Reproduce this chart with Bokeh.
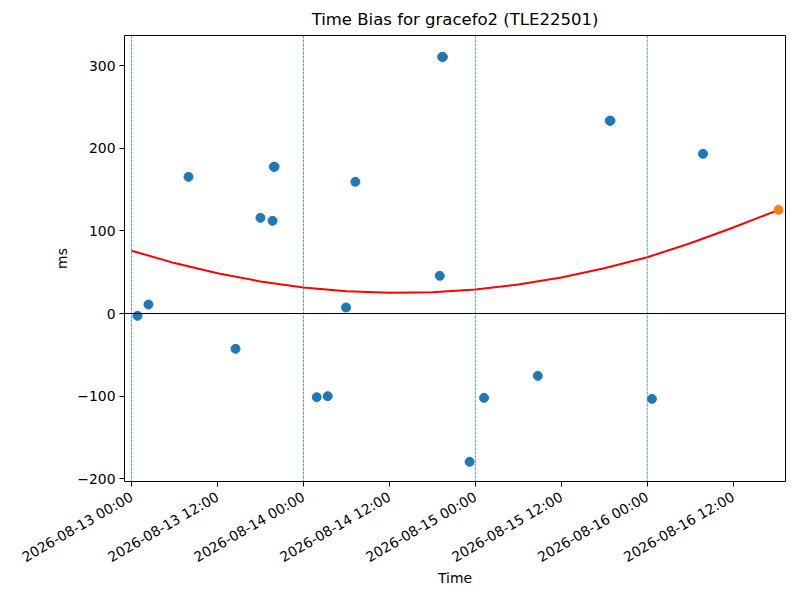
import math
import pandas as pd
from bokeh.plotting import figure
from bokeh.models import Range1d, Span, FixedTicker, DatetimeTickFormatter
from bokeh.embed import file_html
from bokeh.resources import INLINE

# ---- data ----
obs_times = [
    "2026-08-13 00:50", "2026-08-13 02:22", "2026-08-13 07:57", "2026-08-13 14:31",
    "2026-08-13 18:00", "2026-08-13 19:41", "2026-08-13 19:52", "2026-08-13 19:58",
    "2026-08-14 01:51", "2026-08-14 03:23", "2026-08-14 05:57", "2026-08-14 07:15",
    "2026-08-14 19:02", "2026-08-14 19:22", "2026-08-14 19:28", "2026-08-14 23:12",
    "2026-08-15 01:13", "2026-08-15 08:43", "2026-08-15 18:46", "2026-08-15 18:52",
    "2026-08-16 00:39", "2026-08-16 07:47",
]
obs_bias_ms = [
    -2.8, 10.9, 165.3, -42.7,
    115.7, 112.1, 177.4, 177.6,
    -101.2, -100.0, 7.3, 159.3,
    45.6, 310.5, 310.3, -179.4,
    -102.0, -75.4, 233.1, 233.3,
    -103.2, 193.2,
]
latest_time = ["2026-08-16 18:20"]
latest_bias_ms = [125.4]

fit_times = [
    "2026-08-13 00:00", "2026-08-13 06:00", "2026-08-13 12:00", "2026-08-13 18:00",
    "2026-08-14 00:00", "2026-08-14 06:00", "2026-08-14 12:00", "2026-08-14 18:00",
    "2026-08-15 00:00", "2026-08-15 06:00", "2026-08-15 12:00", "2026-08-15 18:00",
    "2026-08-16 00:00", "2026-08-16 06:00", "2026-08-16 12:00", "2026-08-16 18:20",
]
fit_bias_ms = [
    76.0, 61.0, 48.6, 38.8,
    31.6, 27.0, 25.1, 25.8,
    29.1, 35.0, 43.6, 54.7,
    68.0, 85.0, 104.0, 125.4,
]

day_lines = ["2026-08-13 00:00", "2026-08-14 00:00", "2026-08-15 00:00", "2026-08-16 00:00"]
x_ticks = [
    "2026-08-13 00:00", "2026-08-13 12:00", "2026-08-14 00:00", "2026-08-14 12:00",
    "2026-08-15 00:00", "2026-08-15 12:00", "2026-08-16 00:00", "2026-08-16 12:00",
]
y_ticks = [-200, -100, 0, 100, 200, 300]
y_tick_labels = ["\u2212200", "\u2212100", "0", "100", "200", "300"]

title_text = "Time Bias for gracefo2 (TLE22501)"
x_label = "Time"
y_label = "ms"


def ms(s):
    return pd.Timestamp(s).value / 1e6


FONT = "DejaVu Sans"

p = figure(
    frame_width=661, frame_height=446,
    min_border_left=124, min_border_right=7, min_border_top=35, min_border_bottom=100,
    x_axis_type="datetime",
    x_range=Range1d(ms("2026-08-12 23:01"), ms("2026-08-16 19:18")),
    y_range=Range1d(-203.2, 336.3),
    output_backend="svg", toolbar_location=None, title=title_text,
)
p.background_fill_color = "white"
p.border_fill_color = "white"
p.outline_line_color = "black"
p.outline_line_width = 1
p.xgrid.visible = False
p.ygrid.visible = False

p.title.align = "center"
p.title.text_font = FONT
p.title.text_font_size = "16.5px"
p.title.text_font_style = "normal"
p.title.text_color = "black"
p.title.offset = 0
p.title.standoff = 14

for d in day_lines:
    p.add_layout(Span(location=ms(d), dimension="height", line_color="#3f8ccc",
                      line_width=0.9, line_dash="3 1"))
p.add_layout(Span(location=0, dimension="width", line_color="black", line_width=1))

p.line(pd.to_datetime(fit_times), fit_bias_ms, line_color="red", line_width=2)
p.scatter(pd.to_datetime(obs_times), obs_bias_ms, size=9, fill_color="#1f77b4",
          line_color="#1f77b4")
p.scatter(pd.to_datetime(latest_time), latest_bias_ms, size=9, fill_color="#ff7f0e",
          line_color="#ff7f0e")

xa = p.xaxis[0]
xa.ticker = FixedTicker(ticks=[ms(t) for t in x_ticks])
fmt = "%Y-%m-%d %H:%M"
xa.formatter = DatetimeTickFormatter(
    milliseconds=fmt, seconds=fmt, minsec=fmt, minutes=fmt, hourmin=fmt,
    hours=fmt, days=fmt, months=fmt, years=fmt,
)
xa.major_label_orientation = math.pi / 6
xa.axis_label = x_label
xa.axis_label_standoff = -5

ya = p.yaxis[0]
ya.ticker = FixedTicker(ticks=y_ticks)
ya.major_label_overrides = {v: s for v, s in zip(y_ticks, y_tick_labels)}
ya.axis_label = y_label
ya.axis_label_standoff = 4

for ax in (xa, ya):
    ax.axis_line_color = None
    ax.major_tick_line_color = "black"
    ax.major_tick_out = 5
    ax.major_tick_in = 0
    ax.minor_tick_line_color = None
    ax.major_label_text_font = FONT
    ax.major_label_text_font_size = "13.9px"
    ax.major_label_text_color = "black"
    ax.axis_label_text_font = FONT
    ax.axis_label_text_font_size = "13.9px"
    ax.axis_label_text_font_style = "normal"
    ax.axis_label_text_color = "black"

ya.major_label_standoff = 4
xa.major_label_standoff = 9

open("out.html", "w").write(file_html(p, INLINE))
